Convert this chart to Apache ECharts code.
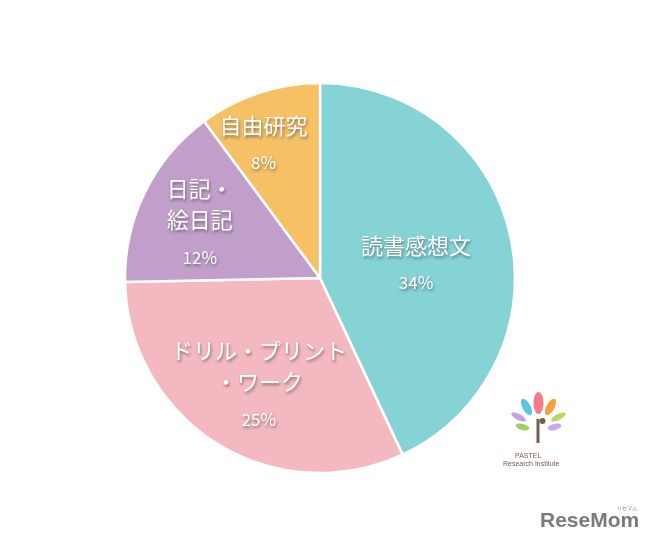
<!DOCTYPE html>
<html><head><meta charset="utf-8">
<script src="https://cdn.jsdelivr.net/npm/echarts@6/dist/echarts.min.js"></script>
<style>html,body{margin:0;padding:0;background:#fff}#c{width:650px;height:548px}</style>
</head><body><div id="c"></div>
<script>
const categories = ['読書感想文', 'ドリル・プリント\n・ワーク', '日記・\n絵日記', '自由研究'];
const values = [34, 25, 12, 8];
const colors = ['#85d3d5', '#f4b8c0', '#c29fcb', '#f6c065'];
const labelShift = [[-2, 11], [-8, 25], [-30, -7], [-25, -35]];

const shadow = { textShadowColor: 'rgba(60,60,60,0.6)', textShadowBlur: 3, textShadowOffsetX: 1, textShadowOffsetY: 2 };
const chart = echarts.init(document.getElementById('c'));
chart.setOption({
  animation: false,
  series: [{
    type: 'pie',
    center: [320, 278],
    radius: [0, 195],
    startAngle: 90,
    clockwise: true,
    data: categories.map((n, i) => ({ name: n, value: values[i], itemStyle: { color: colors[i] } })),
    itemStyle: { borderColor: '#fff', borderWidth: 2.5 },
    label: Object.assign({
      position: 'inside',
      color: '#fff',
      fontFamily: '"Noto Sans CJK JP"',
      formatter: p => p.name.split('\n').map(s => '{n|' + s + '}').join('\n') + '\n{p|' + p.value + '%}',
      rich: {
        n: Object.assign({ fontSize: 22, lineHeight: 31, color: '#fff', fontFamily: '"Noto Sans CJK JP"' }, shadow),
        p: Object.assign({ fontSize: 17, lineHeight: 44, color: '#fff', fontFamily: '"Noto Sans CJK JP"' }, shadow)
      }
    }, shadow),
    labelLine: { show: false },
    labelLayout: p => ({ dx: labelShift[p.dataIndex][0], dy: labelShift[p.dataIndex][1] })
  }],
  graphic: [
    { type: 'group', left: 510, top: 392, children: [
      { type: 'ellipse', shape: { cx: 30, cy: 12, rx: 5, ry: 11 }, style: { fill: '#f47c8a' } },
      { type: 'ellipse', shape: { cx: 18, cy: 16, rx: 4, ry: 9 }, rotation: 0.5, originX: 18, originY: 16, style: { fill: '#5cc6e8' } },
      { type: 'ellipse', shape: { cx: 42, cy: 16, rx: 4, ry: 9 }, rotation: -0.5, originX: 42, originY: 16, style: { fill: '#f7a13a' } },
      { type: 'ellipse', shape: { cx: 10, cy: 26, rx: 3, ry: 8 }, rotation: 1.1, originX: 10, originY: 26, style: { fill: '#c5a3e0' } },
      { type: 'ellipse', shape: { cx: 50, cy: 26, rx: 3, ry: 8 }, rotation: -1.1, originX: 50, originY: 26, style: { fill: '#b5d86a' } },
      { type: 'ellipse', shape: { cx: 14, cy: 36, rx: 3, ry: 7 }, rotation: 1.3, originX: 14, originY: 36, style: { fill: '#9ed35b' } },
      { type: 'ellipse', shape: { cx: 46, cy: 36, rx: 3, ry: 7 }, rotation: -1.3, originX: 46, originY: 36, style: { fill: '#c8a8e6' } },
      { type: 'rect', shape: { x: 28, y: 28, width: 3, height: 24 }, style: { fill: '#7a5a48' } },
      { type: 'circle', shape: { cx: 34, cy: 30, r: 3 }, style: { fill: '#7a5a48' } }
    ] },
    { type: 'text', left: 515, top: 453, style: { text: 'PASTEL', fontSize: 7, fill: '#7a5a48', fontFamily: 'Liberation Sans' } },
    { type: 'text', left: 503, top: 461, style: { text: 'Research Institute', fontSize: 7, fill: '#7a5a48', fontFamily: 'Liberation Sans' } },
    { type: 'text', left: 540, top: 511, style: { text: 'ReseMom', fontSize: 21, fontWeight: 'bold', fill: '#7a7a7a', fontFamily: 'Liberation Sans' } },
    { type: 'text', left: 617, top: 506, style: { text: 'リセマム', fontSize: 5, fill: '#808080', fontFamily: '"Noto Sans CJK JP"' } }
  ]
});
</script></body></html>
